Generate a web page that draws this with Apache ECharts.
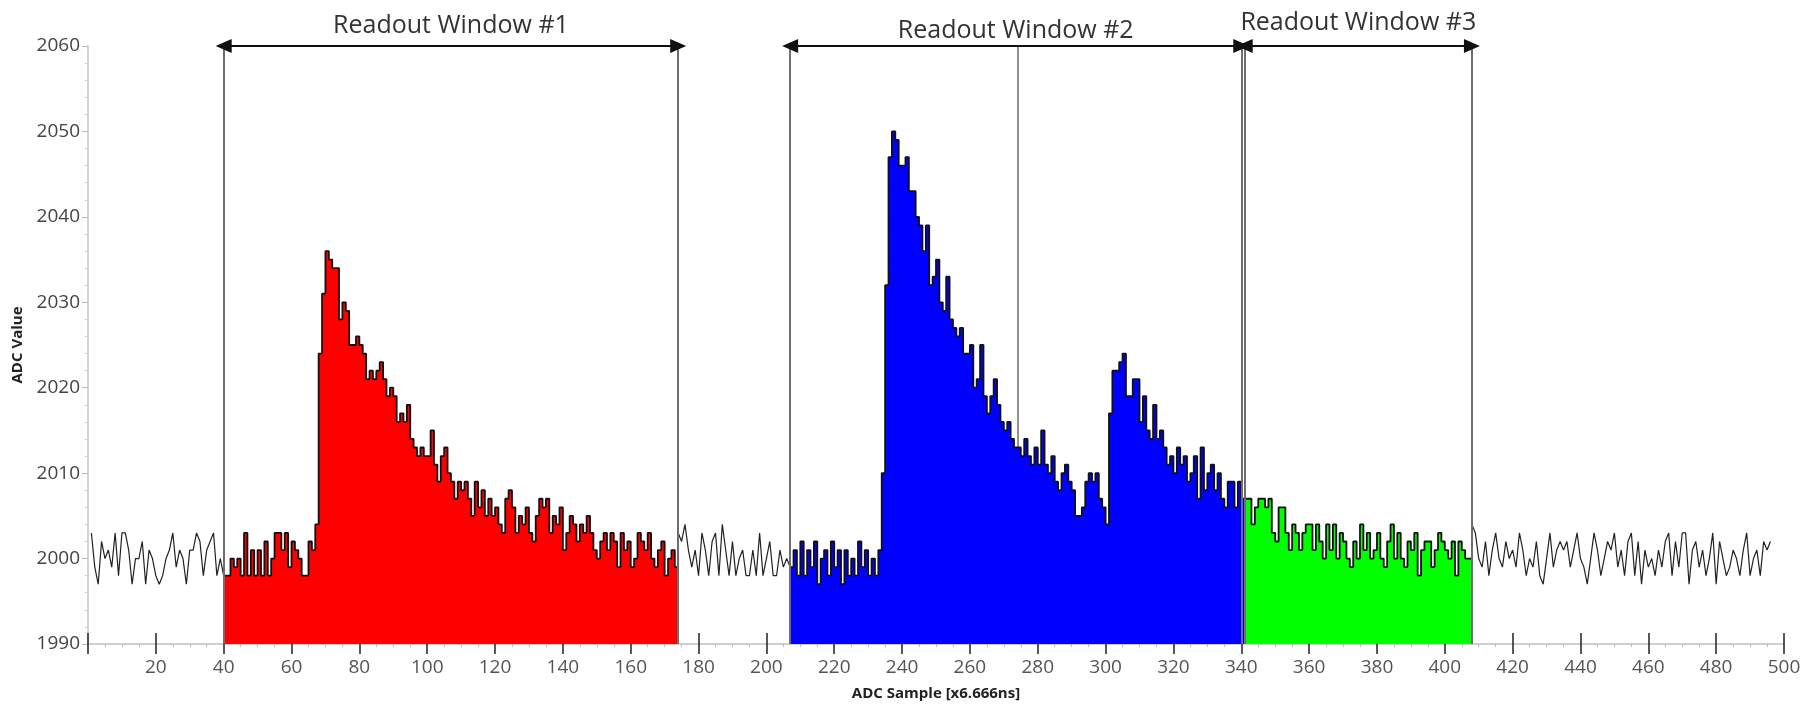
<!DOCTYPE html>
<html>
<head>
<meta charset="utf-8">
<script src="https://cdn.jsdelivr.net/npm/echarts@6/dist/echarts.min.js"></script>
<style>
  html, body { margin: 0; padding: 0; background: #fff; }
  #chart { width: 1819px; height: 707px; }
</style>
</head>
<body>
<div id="chart"></div>
<script>
// ADC trace, one value per sample (x6.666ns). Each block starts at the given sample.
const preStart = 1;
const preValues = [
  2003, 1999, 1997, 2002, 2000, 2001, 1999, 2003, 1998, 2003,
  2003, 2001, 1997, 2000, 2000, 2002, 1997, 2001, 2000, 1998,
  1997, 1998, 2000, 2001, 2003, 1999, 2001, 2000, 1997, 2001,
  2001, 2003, 2002, 1998, 2001, 2002, 2003, 1998, 2000
];
const win1Start = 40;
const win1Values = [
  1998, 1998, 2000, 1999, 2000, 1998, 2003, 1998, 2001, 1998,
  2001, 1998, 2002, 1998, 2000, 2003, 2003, 2001, 2003, 1999,
  2002, 2001, 2000, 1998, 1998, 2002, 2001, 2004, 2024, 2031,
  2036, 2035, 2034, 2034, 2028, 2030, 2029, 2025, 2025, 2026,
  2025, 2024, 2021, 2022, 2021, 2022, 2023, 2021, 2019, 2020,
  2019, 2016, 2017, 2016, 2018, 2014, 2013, 2012, 2013, 2012,
  2012, 2015, 2011, 2009, 2012, 2013, 2010, 2009, 2007, 2009,
  2008, 2009, 2007, 2005, 2009, 2006, 2008, 2005, 2007, 2005,
  2006, 2004, 2003, 2007, 2008, 2006, 2003, 2005, 2004, 2006,
  2003, 2002, 2005, 2007, 2006, 2007, 2003, 2005, 2004, 2006,
  2001, 2003, 2005, 2004, 2002, 2004, 2003, 2005, 2003, 2001,
  2000, 2002, 2003, 2001, 2003, 2002, 1999, 2003, 2001, 2002,
  1999, 2000, 2003, 2002, 2001, 2003, 2000, 1999, 2001, 2002,
  1998, 2000, 2001, 1999
];
const gapStart = 174;
const gapValues = [
  2003, 2002, 2004, 2001, 1999, 2001, 1998, 2003, 2001, 1998,
  2002, 2003, 1998, 2004, 2001, 1998, 2002, 1998, 2000, 2001,
  1998, 1998, 2001, 1998, 2003, 1998, 2000, 2002, 1998, 1998,
  2001, 1999, 2000
];
const win2Start = 207;
const win2Values = [
  1999, 2001, 1998, 2002, 1998, 2001, 1999, 2002, 1997, 2000,
  2001, 1998, 2002, 1999, 2001, 1997, 2001, 1998, 2000, 1998,
  2002, 1999, 2001, 1998, 2000, 1998, 2001, 2010, 2032, 2047,
  2050, 2049, 2046, 2046, 2047, 2043, 2043, 2040, 2039, 2036,
  2039, 2032, 2033, 2035, 2030, 2029, 2033, 2028, 2027, 2026,
  2027, 2024, 2024, 2025, 2020, 2021, 2025, 2019, 2017, 2019,
  2021, 2018, 2016, 2015, 2016, 2014, 2013, 2013, 2012, 2014,
  2012, 2011, 2013, 2011, 2015, 2011, 2010, 2012, 2009, 2008,
  2010, 2011, 2009, 2008, 2005, 2005, 2006, 2009, 2010, 2009,
  2010, 2007, 2006, 2004, 2017, 2022, 2022, 2023, 2024, 2019,
  2019, 2021, 2021, 2016, 2019, 2015, 2014, 2018, 2014, 2015,
  2013, 2011, 2012, 2010, 2013, 2011, 2012, 2009, 2010, 2012,
  2007, 2013, 2008, 2010, 2011, 2008, 2010, 2007, 2006, 2009,
  2009, 2006, 2009, 2007
];
const win3Start = 341;
const win3Values = [
  2007, 2007, 2004, 2006, 2007, 2007, 2006, 2007, 2003, 2002,
  2006, 2006, 2003, 2001, 2004, 2003, 2001, 2003, 2004, 2004,
  2001, 2004, 2002, 2000, 2004, 2001, 2004, 2000, 2003, 2002,
  2000, 1999, 2002, 2000, 2004, 2001, 2003, 2000, 2001, 2003,
  2000, 1999, 2002, 2004, 2000, 2003, 2000, 1999, 2002, 2001,
  2003, 1998, 2001, 2002, 2002, 1999, 2001, 2003, 2002, 2001,
  2000, 2002, 1998, 2002, 2001, 2000, 2000
];
const postStart = 408;
const postValues = [
  2004, 2003, 2000, 1999, 2002, 1998, 2001, 2003, 2000, 1999,
  2002, 2000, 2001, 1999, 2003, 2001, 1998, 2000, 1999, 2002,
  1998, 1997, 2000, 2003, 1999, 2001, 2002, 2001, 2002, 1999,
  2001, 2003, 2000, 1999, 1997, 2000, 2003, 2001, 1998, 2000,
  2002, 2001, 2003, 1999, 2001, 1998, 2002, 2003, 1998, 2002,
  1997, 2001, 1999, 2000, 1998, 2001, 1999, 2002, 2003, 1998,
  2002, 1999, 2003, 2003, 1997, 2001, 2002, 1999, 2001, 1998,
  2000, 2003, 1997, 2002, 2000, 1998, 1999, 2001, 2000, 1998,
  2001, 2003, 1998, 2000, 2001, 1998, 2002, 2001, 2002
];

const windowNames = ['Readout Window #1', 'Readout Window #2', 'Readout Window #3'];
const windowEdges = [[40, 174], [207, 340], [341, 408]];
const windowColors = ['#ff0000', '#0000ff', '#00ff00'];
const windowMid = 274;

const xMin = 0, xMax = 500, xStep = 20;
const yMin = 1990, yMax = 2060, yStep = 10;

function toPoints(start, values) {
  return values.map((v, k) => [start + k, v]);
}

// filled windows: step line, last value held to the end of the sample
function windowPoints(start, values) {
  const pts = toPoints(start, values);
  pts.push([start + values.length, values[values.length - 1]]);
  return pts;
}

const chart = echarts.init(document.getElementById('chart'));
const font = 'Open Sans';

const outsideSegs = [
  toPoints(preStart, preValues).concat([[win1Start, win1Values[0]]]),
  toPoints(gapStart, gapValues).concat([[win2Start, win2Values[0]]]),
  toPoints(postStart, postValues)
];
const fills = [
  windowPoints(win1Start, win1Values),
  windowPoints(win2Start, win2Values),
  windowPoints(win3Start, win3Values)
];

const series = [];

outsideSegs.forEach(seg => {
  series.push({
    type: 'line', data: seg, showSymbol: false, symbol: 'none', z: 3,
    lineStyle: { color: '#222', width: 1.2 }, silent: true, animation: false
  });
});

fills.forEach((pts, k) => {
  series.push({
    type: 'line', data: pts, step: 'end', showSymbol: false, symbol: 'none', z: 2,
    lineStyle: { color: '#111', width: 1.8 },
    areaStyle: { color: windowColors[k], opacity: 1, origin: 'start' },
    silent: true, animation: false
  });
});

// window boundaries (on top) and middle line of window 2 (behind)
const edgeList = [];
windowEdges.forEach(e => { edgeList.push({ xAxis: e[0] }); edgeList.push({ xAxis: e[1] }); });
series.push({
  type: 'line', data: [], silent: true, animation: false,
  markLine: {
    z: 5, silent: true, symbol: ['none', 'none'], animation: false,
    label: { show: false },
    lineStyle: { color: '#6e6e6e', width: 2, type: 'solid' },
    data: edgeList
  }
});
series.push({
  type: 'line', data: [], silent: true, animation: false,
  markLine: {
    z: 1, silent: true, symbol: ['none', 'none'], animation: false,
    label: { show: false },
    lineStyle: { color: '#6e6e6e', width: 1.5, type: 'solid' },
    data: [{ xAxis: windowMid }]
  }
});

// arrows with titles at the top
const labelDist = [8, 3, 11];
series.push({
  type: 'line', data: [], silent: true, animation: false,
  markLine: {
    z: 6, silent: true, animation: false,
    symbol: ['triangle', 'triangle'], symbolSize: [14, 16],
    lineStyle: { color: '#111', width: 2, type: 'solid' },
    data: windowEdges.map((e, k) => [
      { coord: [e[0], yMax], name: windowNames[k],
        label: { show: true, position: 'insideMiddleTop', distance: labelDist[k],
          formatter: '{b}', color: '#333', fontSize: 25, fontFamily: font } },
      { coord: [e[1], yMax] }
    ])
  }
});

const gridRect = { left: 88, right: 35, top: 46, bottom: 63 };

chart.setOption({
  backgroundColor: '#fff',
  animation: false,
  grid: [Object.assign({}, gridRect), Object.assign({}, gridRect)],
  xAxis: [{
    type: 'value', gridIndex: 0, min: xMin, max: xMax, interval: xStep,
    name: 'ADC Sample [x6.666ns]', nameLocation: 'middle', nameGap: 42,
    nameTextStyle: { fontWeight: 'bold', fontSize: 15, color: '#222', fontFamily: font },
    axisLine: { show: true, lineStyle: { color: '#cfcfcf', width: 2 } },
    axisTick: { show: true, length: 10, lineStyle: { color: '#222', width: 1.5 } },
    minorTick: { show: true, splitNumber: 4, length: 3, lineStyle: { color: '#bbb' } },
    axisLabel: { showMinLabel: false, margin: 14, fontSize: 19, color: '#555', fontFamily: font },
    splitLine: { show: false }
  }, {
    type: 'value', gridIndex: 1, min: xMin, max: xMax, interval: xStep,
    axisLine: { show: false },
    axisTick: { show: true, inside: true, length: 11, lineStyle: { color: '#222', width: 1.5 } },
    axisLabel: { show: false },
    splitLine: { show: false }
  }],
  yAxis: [{
    type: 'value', gridIndex: 0, min: yMin, max: yMax, interval: yStep,
    name: 'ADC Value', nameLocation: 'middle', nameGap: 58, nameRotate: 90,
    nameTextStyle: { fontWeight: 'bold', fontSize: 15, color: '#222', fontFamily: font },
    axisLine: { show: true, lineStyle: { color: '#d5d5d5', width: 2 } },
    axisTick: { show: true, length: 6, lineStyle: { color: '#bbb' } },
    minorTick: { show: true, splitNumber: 5, length: 3, lineStyle: { color: '#ccc' } },
    axisLabel: { margin: 8, fontSize: 19, color: '#444', fontFamily: font,
      formatter: v => String(v) },
    splitLine: { show: false }
  }, {
    type: 'value', gridIndex: 1, min: yMin, max: yMax, show: false
  }],
  series: series
});
</script>
</body>
</html>
